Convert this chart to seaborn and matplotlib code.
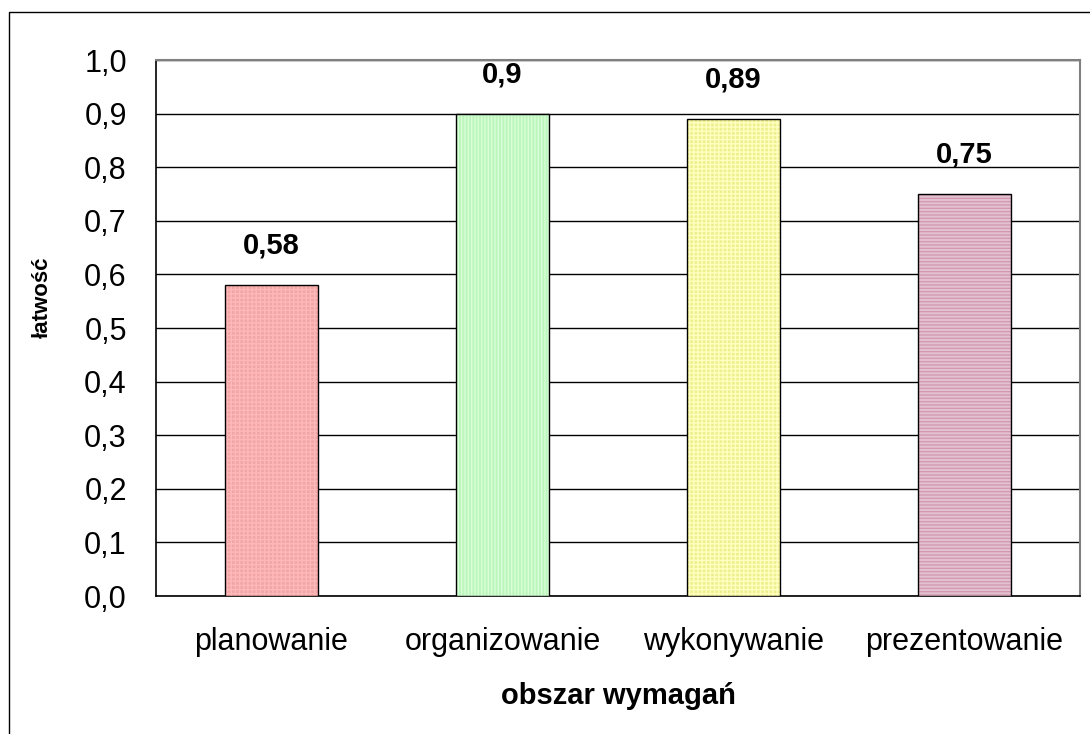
import matplotlib
matplotlib.use("Agg")
import matplotlib.pyplot as plt
import seaborn as sns
import pandas as pd
from matplotlib.patches import Rectangle

sns.set_style("white")
plt.rcParams['font.family'] = ['Liberation Sans', 'DejaVu Sans']
plt.rcParams['text.color'] = 'black'
plt.rcParams['xtick.color'] = 'black'
plt.rcParams['ytick.color'] = 'black'
plt.rcParams['axes.labelcolor'] = 'black'
plt.rcParams['hatch.linewidth'] = 1.0

# dane
obszary = ['planowanie', 'organizowanie', 'wykonywanie', 'prezentowanie']
latwosc = [0.58, 0.90, 0.89, 0.75]
etykiety = ['0,58', '0,9', '0,89', '0,75']
kolory = ['#FF9999', '#B3FFB3', '#FFFF80', '#E8BCD0']
wzory = ['++++', '|||||', '++++', '-----']
kolory_wzoru = ['#FFB8B8', '#D8FFD8', '#FFFFC0', '#D49AB2']
y_ticks = [0.0, 0.1, 0.2, 0.3, 0.4, 0.5, 0.6, 0.7, 0.8, 0.9, 1.0]

df = pd.DataFrame({'obszar': obszary, 'latwosc': latwosc})

fig = plt.figure(figsize=(10.9, 7.34), dpi=100)
ax = fig.add_axes([156 / 1090, 1 - 596 / 734, (1080 - 156) / 1090, (596 - 60) / 734])

sns.barplot(data=df, x='obszar', y='latwosc', hue='obszar', palette=kolory,
            legend=False, width=0.4, edgecolor='black', linewidth=1.0, ax=ax, zorder=3)

for bar, h, hc in zip(ax.patches, wzory, kolory_wzoru):
    bar.set_hatch(h)
    bar._hatch_color = matplotlib.colors.to_rgba(hc)

for i, (v, t) in enumerate(zip(latwosc, etykiety)):
    ax.text(i, v + 0.047, t, ha='center', va='bottom', fontsize=21, fontweight='bold')

ax.set_ylim(0, 1.0)
ax.set_xlim(-0.5, 3.5)
ax.set_yticks(y_ticks)
ax.set_yticklabels([f'{t:.1f}'.replace('.', ',') for t in y_ticks], fontsize=22)
ax.yaxis.grid(True, color='black', linewidth=1.0, zorder=0)
ax.set_axisbelow(True)

ax.set_xticks([-0.5, 0.5, 1.5, 2.5, 3.5])
ax.set_xticklabels([])
ax.set_xticks([0, 1, 2, 3], minor=True)
ax.set_xticklabels(obszary, minor=True, fontsize=22)
ax.tick_params(axis='x', which='major', length=10, width=1.0, direction='out', color='black')
ax.tick_params(axis='x', which='minor', length=0, pad=22)
ax.tick_params(axis='y', length=10, width=1.0, direction='out', color='black', pad=11)

ax.set_xlabel('obszar wymagań', fontsize=21, fontweight='bold', labelpad=18)
ax.set_ylabel('łatwość', fontsize=16, fontweight='bold')
ax.yaxis.set_label_coords(-0.112, 0.558)

for s in ['left', 'bottom']:
    ax.spines[s].set_color('black')
    ax.spines[s].set_linewidth(1.2)
for s in ['top', 'right']:
    ax.spines[s].set_color('#808080')
    ax.spines[s].set_linewidth(1.5)

fig.patches.append(Rectangle((9 / 1090, -0.05), 1.1, 1 - 12 / 734 + 0.05,
                             transform=fig.transFigure, fill=False,
                             edgecolor='black', linewidth=1.0))

fig.savefig('out.png', dpi=100)
